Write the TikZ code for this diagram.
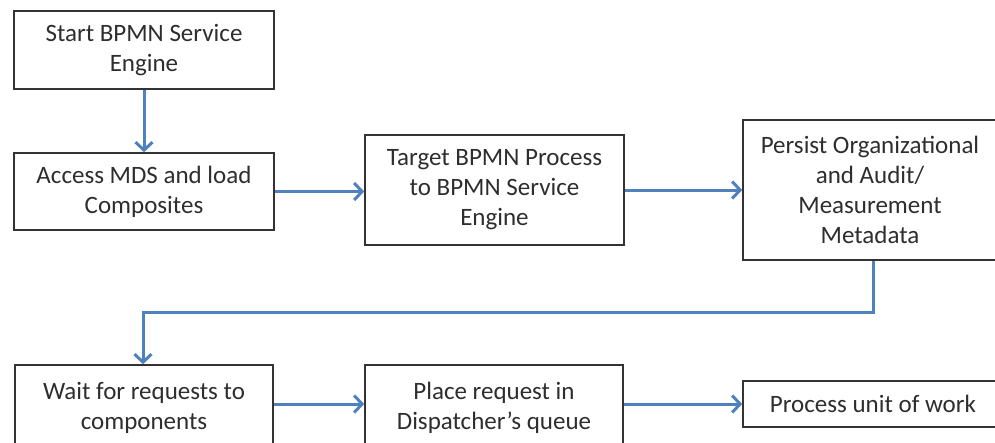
\documentclass[tikz,border=0pt]{standalone}
\usepackage{fontspec}
\setmainfont{Carlito}
\usetikzlibrary{arrows.meta}
\definecolor{arrowblue}{HTML}{4F81BD}
\definecolor{txtgray}{HTML}{2E2E2E}
\begin{document}
\begin{tikzpicture}[x=1pt,y=-1pt,
  box/.style={draw=black!80,line width=1.6pt,rectangle,align=center,inner sep=0pt,
    text=txtgray,font=\fontsize{25}{30}\selectfont},
  flow/.style={draw=arrowblue,line width=3pt,-{Straight Barb[length=8pt,width=17pt,line width=3pt]}}]
\useasboundingbox (0,0) rectangle (995,442);
\clip (0,0) rectangle (995,442);
\fill[white] (0,0) rectangle (995,442);
\node[box,minimum width=260pt,minimum height=78pt] (b1) at (144,50) {Start BPMN Service\\Engine};
\node[box,minimum width=260pt,minimum height=77pt] (b2) at (144,191.5) {Access MDS and load\\Composites};
\node[box,minimum width=259pt,minimum height=110pt] (b3) at (494.5,190) {Target BPMN Process\\to BPMN Service\\Engine};
\node[box,minimum width=254pt,minimum height=140pt] (b4) at (870,190) {Persist Organizational\\and Audit/\\Measurement\\Metadata};
\node[box,minimum width=258pt,minimum height=86pt] (b5) at (144,408) {Wait for requests to\\components};
\node[box,minimum width=258pt,minimum height=86pt] (b6) at (494,408) {Place request in\\Dispatcher’s queue};
\node[box,minimum width=260pt,minimum height=46pt] (b7) at (873,404) {Process unit of work};
\coordinate (c1) at (873,312);
\coordinate (c2) at (143,312);
\draw[flow] (b1.south) -- (b2.north);
\draw[flow] (b2.east) -- (b3.west |- b2.east);
\draw[flow] (b3.east) -- (b4.west);
\draw[flow] (b4.south -| c1) -- (c1) -- (c2) -- (c2 |- b5.north);
\draw[flow] ([yshift=4pt]b5.east) -- ([yshift=4pt]b6.west);
\draw[flow] (b6.east |- b7.west) -- (b7.west);
\end{tikzpicture}
\end{document}
